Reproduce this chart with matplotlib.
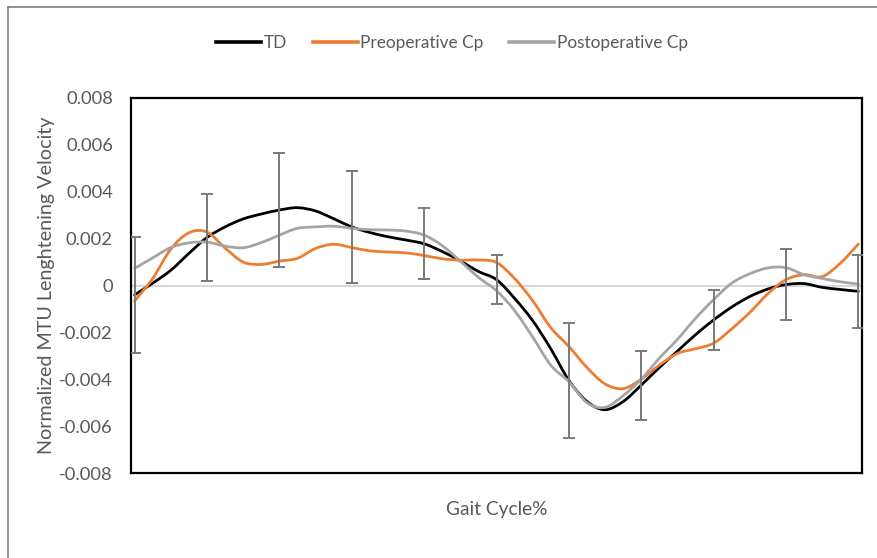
import numpy as np
import matplotlib
matplotlib.use("Agg")
import matplotlib.pyplot as plt
from matplotlib.lines import Line2D
from matplotlib.path import Path
from matplotlib.patches import PathPatch

plt.rcParams["font.family"] = ["Lato", "DejaVu Sans"]
plt.rcParams["axes.unicode_minus"] = False

# ─── Data ─────────────────────────────────────────────────────────────────────

gait_pct = [0, 2.5, 5, 7.5, 10, 12.5, 15, 17.5, 20, 22.5,
            25, 27.5, 30, 32.5, 35, 37.5, 40, 42.5, 45, 47.5,
            50, 52.5, 55, 57.5, 60, 62.5, 65, 67.5, 70, 72.5,
            75, 77.5, 80, 82.5, 85, 87.5, 90, 92.5, 95, 97.5, 100]

td = [-0.00040, 0.00010, 0.00065, 0.00137, 0.00205, 0.00250, 0.00284, 0.00305, 0.00322, 0.00332,
      0.00318, 0.00285, 0.00250, 0.00226, 0.00208, 0.00194, 0.00178, 0.00145, 0.00105, 0.00060,
      0.00025, -0.00055, -0.00150, -0.00270, -0.00405, -0.00495, -0.00530, -0.00495, -0.00425, -0.00350,
      -0.00280, -0.00210, -0.00147, -0.00092, -0.00047, -0.00015, 0.00004, 0.00008, -0.00008, -0.00017, -0.00025]

preop = [-0.00066, 0.00030, 0.00155, 0.00225, 0.00228, 0.00160, 0.00100, 0.00090, 0.00104, 0.00116,
         0.00158, 0.00176, 0.00162, 0.00148, 0.00143, 0.00139, 0.00128, 0.00114, 0.00108, 0.00109,
         0.00098, 0.00030, -0.00065, -0.00180, -0.00260, -0.00350, -0.00420, -0.00440, -0.00400, -0.00340,
         -0.00290, -0.00270, -0.00246, -0.00185, -0.00115, -0.00035, 0.00025, 0.00046, 0.00038, 0.00095, 0.00177]

postop = [0.00073, 0.00118, 0.00162, 0.00182, 0.00185, 0.00168, 0.00161, 0.00183, 0.00215, 0.00244,
          0.00250, 0.00253, 0.00244, 0.00238, 0.00237, 0.00232, 0.00215, 0.00170, 0.00104, 0.00035,
          -0.00022, -0.00107, -0.00220, -0.00340, -0.00410, -0.00500, -0.00520, -0.00470, -0.00400, -0.00310,
          -0.00230, -0.00140, -0.00060, 0.00010, 0.00050, 0.00075, 0.00076, 0.00046, 0.00030, 0.00016, 0.00006]

# TD standard deviation, every 10% of the cycle
sd_pct = [0, 10, 20, 30, 40, 50, 60, 70, 80, 90, 100]
td_sd = [0.00248, 0.00187, 0.00245, 0.00238, 0.00152, 0.00105, 0.00246, 0.00147, 0.00127, 0.00152, 0.00156]

y_ticks = [0.008, 0.006, 0.004, 0.002, 0, -0.002, -0.004, -0.006, -0.008]
y_ticklabels = ["0.008", "0.006", "0.004", "0.002", "0", "-0.002", "-0.004", "-0.006", "-0.008"]


def smooth_line(ax, x, y, color, label, lw=2.0):
    """Excel-style smoothed line: cubic Bezier segments through every data point."""
    x = np.asarray(x, float)
    y = np.asarray(y, float)
    verts = [(x[0], y[0])]
    codes = [Path.MOVETO]
    n = len(x)
    for i in range(n - 1):
        i0, i3 = max(i - 1, 0), min(i + 2, n - 1)
        c1 = (x[i] + (x[i + 1] - x[i0]) / 6, y[i] + (y[i + 1] - y[i0]) / 6)
        c2 = (x[i + 1] - (x[i3] - x[i]) / 6, y[i + 1] - (y[i3] - y[i]) / 6)
        verts += [c1, c2, (x[i + 1], y[i + 1])]
        codes += [Path.CURVE4] * 3
    patch = PathPatch(Path(verts, codes), facecolor="none", edgecolor=color,
                      lw=lw, capstyle="round", joinstyle="round", zorder=3)
    ax.add_patch(patch)
    # legend proxy
    ax.plot([], [], color=color, lw=lw + 0.6, label=label)


# ─── Plot ─────────────────────────────────────────────────────────────────────

fig = plt.figure(figsize=(8.77, 5.58), dpi=100)
ax = fig.add_axes([131 / 877, 85 / 558, 731 / 877, 375 / 558])

ax.axhline(0, color="#d9d9d9", lw=1.5, zorder=1)

td_at_sd = [td[gait_pct.index(p)] for p in sd_pct]
ax.errorbar(sd_pct, td_at_sd, yerr=td_sd, fmt="none", ecolor="#7a7a7a",
            elinewidth=1.4, capsize=4.5, capthick=1.4, zorder=4)

smooth_line(ax, gait_pct, td, "black", "TD")
smooth_line(ax, gait_pct, preop, "#ed7d31", "Preoperative Cp")
smooth_line(ax, gait_pct, postop, "#a5a5a5", "Postoperative Cp")

ax.set_xlim(-0.5, 100.5)
ax.set_ylim(-0.008, 0.008)
ax.set_xticks([])
ax.set_yticks(y_ticks)
ax.set_yticklabels(y_ticklabels)
ax.tick_params(axis="y", length=0, pad=13, labelsize=13.2, labelcolor="#595959")

for side in ["left", "right", "top", "bottom"]:
    ax.spines[side].set_color("black")
    ax.spines[side].set_linewidth(1.6)

ax.set_ylabel("Normalized MTU Lenghtening Velocity", fontsize=14.2, color="#595959", labelpad=3)
ax.set_xlabel("Gait Cycle%", fontsize=13.8, color="#595959", labelpad=20)

ax.legend(loc="center", bbox_to_anchor=(452 / 877, 1 - 43 / 558), bbox_transform=fig.transFigure,
          ncol=3, frameon=False, fontsize=12.4, handlelength=2.6, handletextpad=0.15,
          columnspacing=1.5, labelcolor="#595959")

# outer chart border
fig.add_artist(Line2D([8 / 877, 1.0], [1 - 7 / 558, 1 - 7 / 558], color="#7f7f7f", lw=1.2))
fig.add_artist(Line2D([8 / 877, 8 / 877], [0.0, 1 - 7 / 558], color="#7f7f7f", lw=1.2))

fig.savefig("out.png", dpi=100)
